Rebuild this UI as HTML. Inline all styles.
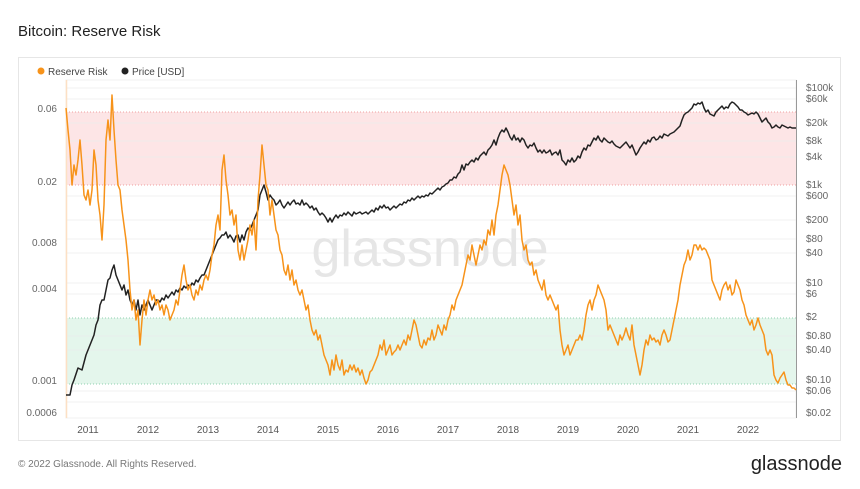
<!DOCTYPE html>
<html><head><meta charset="utf-8"><style>
body{margin:0;background:#fff;width:860px;height:484px;overflow:hidden;font-family:"Liberation Sans",sans-serif;}
</style></head><body>
<svg width="860" height="484" xmlns="http://www.w3.org/2000/svg" font-family="Liberation Sans, sans-serif">
<text x="18" y="36" font-size="15" fill="#222">Bitcoin: Reserve Risk</text>
<rect x="18.5" y="57.5" width="822" height="383" fill="#fff" stroke="#e6e6e6"/>
<circle cx="41" cy="71" r="3.5" fill="#f7931a"/><text x="48" y="75" font-size="10" fill="#444">Reserve Risk</text>
<circle cx="125" cy="71" r="3.5" fill="#222"/><text x="132" y="75" font-size="10" fill="#444">Price [USD]</text>
<rect x="66" y="80" width="730" height="338" fill="#fff" stroke="#f0f0f0"/>
<rect x="66" y="112" width="730" height="73" fill="#fde5e6"/>
<rect x="66" y="318" width="730" height="66" fill="#e4f6ec"/>
<line x1="66" y1="112" x2="796" y2="112" stroke="#f0a0a0" stroke-dasharray="1,2"/>
<line x1="66" y1="185" x2="796" y2="185" stroke="#f0a0a0" stroke-dasharray="1,2"/>
<line x1="66" y1="318" x2="796" y2="318" stroke="#90d0b0" stroke-dasharray="1,2"/>
<line x1="66" y1="384" x2="796" y2="384" stroke="#90d0b0" stroke-dasharray="1,2"/>
<g stroke="#ebebeb" stroke-width="0.7">
<line x1="66" y1="88" x2="796" y2="88"/><line x1="66" y1="99" x2="796" y2="99"/><line x1="66" y1="123" x2="796" y2="123"/><line x1="66" y1="141" x2="796" y2="141"/><line x1="66" y1="157" x2="796" y2="157"/><line x1="66" y1="196" x2="796" y2="196"/><line x1="66" y1="220" x2="796" y2="220"/><line x1="66" y1="239" x2="796" y2="239"/><line x1="66" y1="253" x2="796" y2="253"/><line x1="66" y1="283" x2="796" y2="283"/><line x1="66" y1="294" x2="796" y2="294"/><line x1="66" y1="336" x2="796" y2="336"/><line x1="66" y1="350" x2="796" y2="350"/><line x1="66" y1="391" x2="796" y2="391"/><line x1="66" y1="402" x2="796" y2="402"/>
</g>
<line x1="66.5" y1="80" x2="66.5" y2="418" stroke="#fde0c4" stroke-width="1.5"/>
<line x1="796.5" y1="80" x2="796.5" y2="418" stroke="#999"/>
<text x="430" y="266" font-size="52" fill="#e6e6e6" text-anchor="middle">glassnode</text>
<g font-size="10" fill="#666" text-anchor="end">
<text x="57" y="112">0.06</text><text x="57" y="185">0.02</text><text x="57" y="246">0.008</text><text x="57" y="292">0.004</text><text x="57" y="384">0.001</text><text x="57" y="416">0.0006</text>
</g>
<g font-size="10" fill="#666">
<text x="806" y="91">$100k</text><text x="806" y="102">$60k</text><text x="806" y="126">$20k</text><text x="806" y="144">$8k</text><text x="806" y="160">$4k</text><text x="806" y="188">$1k</text><text x="806" y="199">$600</text><text x="806" y="223">$200</text><text x="806" y="242">$80</text><text x="806" y="256">$40</text><text x="806" y="286">$10</text><text x="806" y="297">$6</text><text x="806" y="320">$2</text><text x="806" y="339">$0.80</text><text x="806" y="353">$0.40</text><text x="806" y="383">$0.10</text><text x="806" y="394">$0.06</text><text x="806" y="416">$0.02</text>
</g>
<g font-size="10" fill="#555" text-anchor="middle">
<text x="88" y="433">2011</text><text x="148" y="433">2012</text><text x="208" y="433">2013</text><text x="268" y="433">2014</text><text x="328" y="433">2015</text><text x="388" y="433">2016</text><text x="448" y="433">2017</text><text x="508" y="433">2018</text><text x="568" y="433">2019</text><text x="628" y="433">2020</text><text x="688" y="433">2021</text><text x="748" y="433">2022</text>
</g>
<polyline fill="none" stroke="#222" stroke-width="1.5" stroke-linejoin="round" points="66,395 70,395 72,385 74,380 78,368 82,370 86,355 90,345 94,335 96,325 98,320 100,305 102,300 104,300 106,290 108,280 110,278 112,270 114,265 116,275 118,280 120,285 122,290 124,285 126,295 128,290 130,300 132,305 134,300 136,310 138,300 140,315 142,305 144,310 146,305 148,300 150,305 152,310 154,305 156,300 158,300 160,302 162,298 164,300 166,295 168,298 170,295 172,292 174,295 176,290 178,292 180,288 182,290 184,286 186,288 188,285 190,287 192,283 194,285 196,280 198,282 200,278 202,275 204,275 206,270 208,265 210,260 212,255 214,250 216,245 218,240 220,238 222,235 224,235 226,232 228,238 230,235 232,238 234,242 236,236 238,235 240,242 242,235 244,240 246,232 248,228 250,230 252,225 254,220 256,215 258,210 260,195 262,190 264,185 266,192 268,200 270,195 272,198 274,200 276,205 278,203 280,200 282,205 284,208 286,205 288,202 290,205 292,202 294,200 296,204 298,203 300,205 302,200 304,205 306,203 308,205 310,208 312,206 314,210 316,208 318,212 320,215 322,213 324,215 326,218 328,222 330,218 332,222 334,218 336,215 338,218 340,215 342,216 344,213 346,215 348,212 350,214 352,216 354,212 356,214 358,213 360,212 362,214 364,213 366,212 368,214 370,212 372,210 374,212 376,208 378,210 380,206 382,208 384,205 386,208 388,207 390,210 392,208 394,206 396,208 398,206 400,204 402,205 404,202 406,203 408,200 410,201 412,198 414,200 416,198 418,196 420,198 422,196 424,197 426,195 428,196 430,193 432,194 434,192 436,190 438,188 440,190 442,187 444,186 446,184 448,183 450,180 452,180 454,177 456,178 458,174 460,172 462,165 464,170 466,164 468,165 470,162 472,160 474,162 476,158 478,160 480,156 482,154 484,152 486,155 488,150 490,148 492,145 494,140 496,145 498,138 500,133 502,130 504,132 506,128 508,132 510,137 512,140 514,135 516,140 518,138 520,142 522,138 524,140 526,145 528,148 530,145 532,146 534,143 536,148 538,152 540,150 542,153 544,150 546,153 548,152 550,150 552,155 554,153 556,152 558,155 560,150 562,160 564,162 566,165 568,160 570,162 572,158 574,162 576,160 578,156 580,158 582,152 584,148 586,150 588,145 590,146 592,142 594,138 596,140 598,136 600,140 602,142 604,138 606,140 608,142 610,143 612,141 614,144 616,146 618,147 620,148 622,146 624,144 626,142 628,145 630,148 632,145 634,150 636,155 638,152 640,148 642,145 644,142 646,144 648,140 650,142 652,138 654,137 656,140 658,139 660,136 662,138 664,134 666,135 668,136 670,134 672,133 674,132 676,130 678,128 680,126 682,120 684,115 686,113 688,112 690,110 692,108 694,104 696,105 698,103 700,104 702,102 704,108 706,112 708,110 710,114 712,115 714,116 716,112 718,110 720,108 722,106 724,109 726,107 728,108 730,104 732,102 734,103 736,105 738,107 740,110 742,110 744,112 746,113 748,115 750,114 752,113 754,114 756,112 758,114 760,118 762,122 764,120 766,118 768,122 770,124 772,128 774,127 776,125 778,127 780,128 782,125 784,126 786,127 788,128 790,127 792,128 794,128 796,128"/>
<polyline fill="none" stroke="#f7931a" stroke-width="1.5" stroke-linejoin="round" points="66,108 68,130 70,150 72,185 74,165 76,175 78,160 80,140 82,165 84,195 86,200 88,190 90,205 92,190 94,150 96,165 98,200 100,215 102,240 104,205 106,140 108,120 110,140 112,95 114,130 116,160 118,185 120,190 122,210 124,225 126,240 128,260 130,290 132,310 134,300 136,320 138,310 140,345 142,320 144,300 146,315 148,300 150,290 152,300 154,295 156,305 158,300 160,310 162,305 164,315 166,305 168,310 170,320 172,315 174,310 176,300 178,305 180,290 182,275 184,265 186,280 188,290 190,285 192,295 194,300 196,290 198,295 200,285 202,290 204,280 206,275 208,280 210,270 212,255 214,245 216,225 218,215 220,230 222,170 224,155 226,180 228,195 230,215 232,210 234,225 236,215 238,250 240,260 242,245 244,260 246,250 248,240 250,225 252,235 254,220 256,250 258,200 260,175 262,145 264,165 266,185 268,190 270,215 272,200 274,215 276,230 278,235 280,250 282,255 284,270 286,275 288,265 290,280 292,270 294,285 296,280 298,290 300,295 302,290 304,300 306,310 308,305 310,320 312,330 314,335 316,330 318,340 320,335 322,345 324,355 326,360 328,365 330,375 332,360 334,370 336,355 338,365 340,370 342,360 344,375 346,370 348,372 350,365 352,370 354,365 356,372 358,368 360,375 362,370 364,378 366,384 368,380 370,372 372,370 374,365 376,360 378,355 380,345 382,350 384,340 386,355 388,350 390,345 392,355 394,352 396,350 398,345 400,350 402,345 404,340 406,345 408,335 410,340 412,330 414,320 416,325 418,335 420,345 422,348 424,340 426,345 428,338 430,340 432,330 434,340 436,335 438,325 440,330 442,335 444,325 446,330 448,320 450,315 452,305 454,310 456,300 458,295 460,290 462,285 464,275 466,265 468,255 470,260 472,245 474,255 476,265 478,255 480,245 482,250 484,240 486,245 488,230 490,235 492,220 494,235 496,215 498,205 500,190 502,175 504,165 506,170 508,175 510,185 512,200 514,215 516,205 518,225 520,215 522,240 524,250 526,245 528,260 530,265 532,262 534,275 536,270 538,280 540,285 542,290 544,280 546,295 548,300 550,295 552,300 554,305 556,310 558,305 560,330 562,345 564,355 566,350 568,345 570,355 572,350 574,345 576,340 578,340 580,335 582,340 584,330 586,315 588,305 590,300 592,310 594,300 596,295 598,285 600,290 602,295 604,300 606,310 608,330 610,325 612,330 614,335 616,340 618,345 620,335 622,340 624,335 626,328 628,335 630,340 632,325 634,345 636,355 638,365 640,375 642,365 644,350 646,340 648,345 650,335 652,340 654,338 656,342 658,340 660,345 662,335 664,330 666,335 668,342 670,340 672,330 674,320 676,310 678,300 680,285 682,275 684,265 686,260 688,250 690,260 692,255 694,245 696,245 698,250 700,245 702,250 704,248 706,250 708,255 710,260 712,280 714,285 716,290 718,295 720,300 722,290 724,285 726,282 728,290 730,285 732,295 734,292 736,280 738,285 740,290 742,300 744,305 746,315 748,320 750,325 752,320 754,330 756,325 758,318 760,325 762,330 764,335 766,350 768,355 770,350 772,355 774,375 776,380 778,383 780,378 782,375 784,372 786,380 788,385 790,385 792,388 794,388 796,390"/>
<text x="18" y="467" font-size="10" fill="#777">© 2022 Glassnode. All Rights Reserved.</text>
<text x="842" y="470" font-size="20" fill="#222" text-anchor="end">glassnode</text>
</svg>
</body></html>
